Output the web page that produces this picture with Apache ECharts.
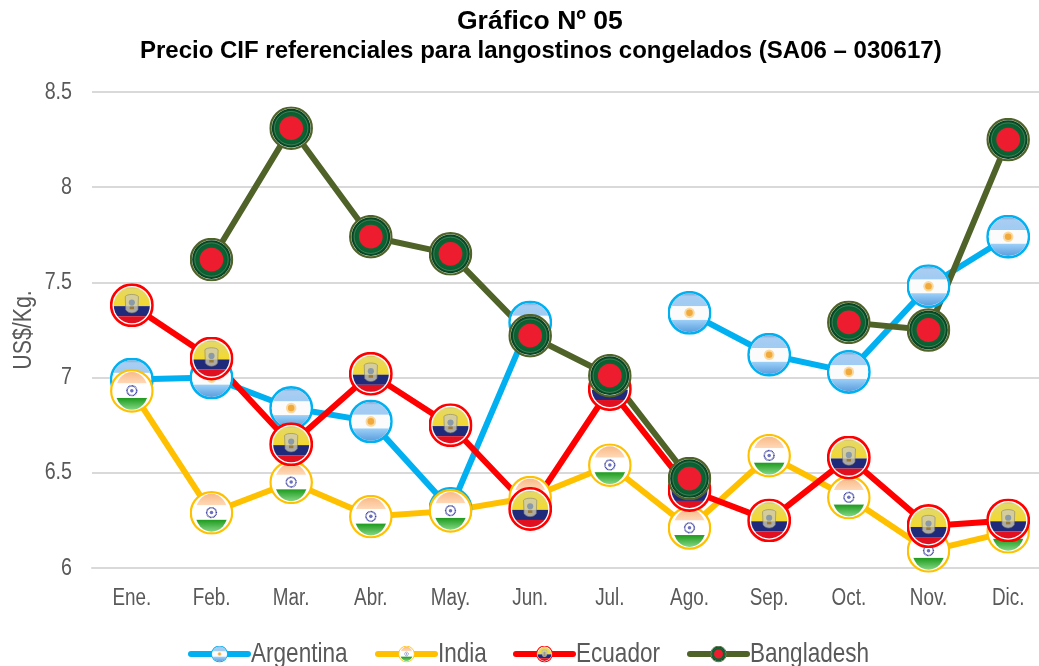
<!DOCTYPE html>
<html><head><meta charset="utf-8">
<style>html,body{margin:0;padding:0;background:#fff}#c{width:1039px;height:666px}</style>
<script src="https://cdn.jsdelivr.net/npm/echarts@6/dist/echarts.min.js"></script>
</head><body><div id="c"></div>
<script>
const months = ['Ene.','Feb.','Mar.','Abr.','May.','Jun.','Jul.','Ago.','Sep.','Oct.','Nov.','Dic.'];
const argentina = [6.99,7.00,6.84,6.77,6.31,7.29,null,7.34,7.12,7.03,7.48,7.74];
const india = [6.93,6.29,6.45,6.27,6.30,6.37,6.54,6.21,6.59,6.37,6.09,6.19];
const ecuador = [7.38,7.10,6.65,7.02,6.75,6.31,6.94,6.41,6.25,6.58,6.22,6.25];
const bangladesh = [null,7.62,8.31,7.74,7.65,7.22,7.01,6.47,null,7.29,7.25,8.25];
const seriesNames = ['Argentina','India','Ecuador','Bangladesh'];
const yTicks = {min:6,max:8.5,interval:0.5};
const yName = 'US$/Kg.';
const font = '"Liberation Sans",Arial,sans-serif';

function uri(body){
  return 'image://data:image/svg+xml;charset=utf-8,'+encodeURIComponent(
   '<svg xmlns="http://www.w3.org/2000/svg" width="200" height="200" viewBox="0 0 100 100">'+body+'</svg>');
}
const flagArgentina = uri(
 '<defs><clipPath id="c"><circle cx="50" cy="50" r="44"/></clipPath>'+
 '<linearGradient id="t" x1="0" y1="0" x2="0" y2="1"><stop offset="0" stop-color="#4f7fb5"/><stop offset=".35" stop-color="#a9cdf2"/><stop offset="1" stop-color="#9fcbf3"/></linearGradient>'+
 '<linearGradient id="b" x1="0" y1="0" x2="0" y2="1"><stop offset="0" stop-color="#9cd0f8"/><stop offset="1" stop-color="#4f93d8"/></linearGradient></defs>'+
 '<circle cx="50" cy="50" r="47" fill="#fff" stroke="#00b0f0" stroke-width="6"/>'+
 '<g clip-path="url(#c)"><rect x="0" y="0" width="100" height="35" fill="url(#t)"/><rect x="0" y="35" width="100" height="31" fill="#fbfbfb"/><rect x="0" y="66" width="100" height="34" fill="url(#b)"/>'+
 '<circle cx="50" cy="50" r="12" fill="#fad9a0"/><circle cx="50" cy="50" r="7.5" fill="#f2a93b"/></g>');
const flagIndia = uri(
 '<defs><clipPath id="c"><ellipse cx="50" cy="50" rx="37" ry="43"/></clipPath>'+
 '<linearGradient id="o" x1="0" y1="0" x2="0" y2="1"><stop offset="0" stop-color="#f7b27a"/><stop offset="1" stop-color="#ffd9b8"/></linearGradient>'+
 '<linearGradient id="g" x1="0" y1="0" x2="0" y2="1"><stop offset="0" stop-color="#1d9a1d"/><stop offset="1" stop-color="#9fe79f"/></linearGradient></defs>'+
 '<circle cx="50" cy="50" r="47" fill="#fff" stroke="#ffc000" stroke-width="5"/>'+
 '<g clip-path="url(#c)"><rect x="0" y="0" width="100" height="33" fill="url(#o)"/><rect x="0" y="33" width="100" height="33" fill="#fff"/><rect x="0" y="66" width="100" height="34" fill="url(#g)"/></g>'+
 '<circle cx="50" cy="49.5" r="11" fill="#fff" stroke="#3b3f9e" stroke-width="3.5" stroke-dasharray="2 1"/><circle cx="50" cy="49.5" r="4" fill="#6a6fc0"/>');
const flagEcuador = uri(
 '<defs><clipPath id="c"><circle cx="50" cy="50" r="41"/></clipPath>'+
 '<linearGradient id="y" x1="0" y1="0" x2="0" y2="1"><stop offset="0" stop-color="#8f8a45"/><stop offset=".25" stop-color="#e4d868"/><stop offset="1" stop-color="#f4d92b"/></linearGradient></defs>'+
 '<circle cx="50" cy="50" r="47" fill="#fff" stroke="#ff0000" stroke-width="6"/>'+
 '<g clip-path="url(#c)"><rect x="0" y="0" width="100" height="52" fill="url(#y)"/><rect x="0" y="52" width="100" height="23" fill="#1f2a7a"/><rect x="0" y="75" width="100" height="25" fill="#e01020"/></g>'+
 '<path d="M35 30 C40 24 60 24 65 30 L64 60 C58 70 42 70 36 60 Z" fill="#cfcbb0" stroke="#777" stroke-width="1.5" opacity=".8"/>'+
 '<circle cx="50" cy="44" r="7" fill="#8a9aa8"/><rect x="45" y="53" width="10" height="6" fill="#9a7a35"/>');
const flagBangladesh = uri(
 '<defs><radialGradient id="g" cx=".5" cy=".5" r=".55"><stop offset="0" stop-color="#0c7a3c"/><stop offset=".75" stop-color="#0a5e30"/><stop offset="1" stop-color="#022a12"/></radialGradient></defs>'+
 '<circle cx="50" cy="50" r="47" fill="#fff" stroke="#4f6228" stroke-width="5"/>'+
 '<circle cx="50" cy="50" r="44" fill="url(#g)"/>'+
 '<circle cx="50" cy="50" r="38" fill="none" stroke="#cfe0c0" stroke-width="1.2" opacity=".55"/>'+
 '<circle cx="50" cy="50" r="27" fill="#ed1c2e"/>');

function line(name,data,color,sym){
  return {name,type:'line',data,symbol:sym,symbolSize:44,showSymbol:true,showAllSymbol:true,
    connectNulls:false,smooth:false,animation:false,
    lineStyle:{color,width:6,cap:'round',join:'round'},itemStyle:{color},emphasis:{disabled:true}};
}
const legendLefts = [188,375,513,687];
const chart = echarts.init(document.getElementById('c'),null,{renderer:'canvas'});
chart.setOption({
  animation:false,backgroundColor:'#fff',
  textStyle:{fontFamily:font},
  title:[
   {text:'Gráfico Nº 05',left:452,top:3,textStyle:{fontSize:26.5,fontWeight:'bold',color:'#000',fontFamily:font}},
   {text:'Precio CIF referenciales para langostinos congelados (SA06 – 030617)',left:135,top:34,textStyle:{fontSize:24,fontWeight:'bold',color:'#000',fontFamily:font}}
  ],
  grid:{left:92,width:956,top:92,height:476,outerBoundsMode:'none'},
  legend:seriesNames.map((n,i)=>({data:[n],left:legendLefts[i],top:640,padding:0,itemWidth:57,itemHeight:21,
    lineStyle:{width:6,cap:'round'},selectedMode:false,
    textStyle:{fontSize:27.5,color:'#595959',fontFamily:font}})),
  xAxis:{type:'category',data:months,boundaryGap:true,
    axisLine:{lineStyle:{color:'#d9d9d9',width:2}},axisTick:{show:false},
    axisLabel:{fontSize:23,color:'#595959',margin:19,interval:0,fontFamily:font}},
  yAxis:{type:'value',min:yTicks.min,max:yTicks.max,interval:yTicks.interval,
    name:yName,nameLocation:'middle',nameGap:55,nameRotate:90,nameMoveOverlap:false,
    nameTextStyle:{fontSize:26,color:'#595959',fontFamily:font},
    axisLine:{show:false},axisTick:{show:false},
    axisLabel:{fontSize:24,color:'#595959',margin:20,formatter:v=>String(v),fontFamily:font},
    splitLine:{lineStyle:{color:'#d9d9d9',width:2}}},
  series:[
    line('Argentina',argentina,'#00b0f0',flagArgentina),
    line('India',india,'#ffc000',flagIndia),
    line('Ecuador',ecuador,'#ff0000',flagEcuador),
    line('Bangladesh',bangladesh,'#4f6228',flagBangladesh)
  ]
});

// The reference sets axis and legend text in a narrow Arial; no narrow face is installed,
// so the library's own text elements are condensed horizontally after layout.
const condensed = new Set([...months,...seriesNames,yName,'6','6.5','7','7.5','8','8.5']);
const zr = chart.getZr();
const seen = new Set();
zr.storage.getDisplayList(true,true).forEach(el=>{
  const t = el.parent;
  const s = el.style && el.style.text;
  if(!t || seen.has(t) || !condensed.has(s)) return;
  seen.add(t);
  t.scaleX = 0.82;
  if(seriesNames.includes(s)){ t.originX = t.style.x||0; t.x -= 2; }
  t.markRedraw();
});
zr.refresh();
</script></body></html>
